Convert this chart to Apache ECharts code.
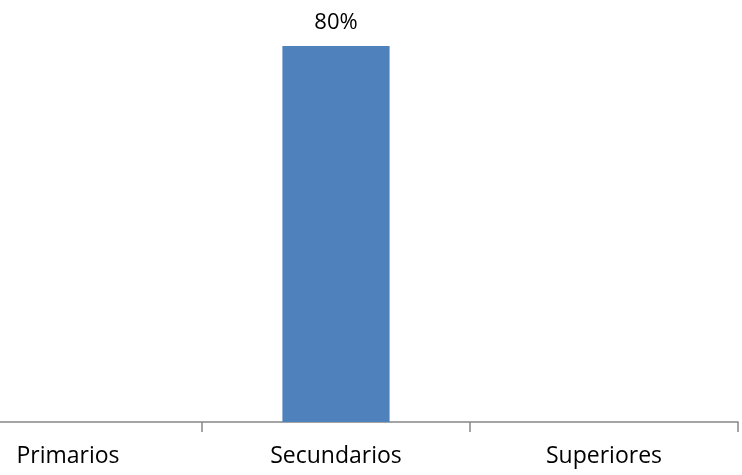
<!DOCTYPE html>
<html><head><meta charset="utf-8">
<script src="https://cdn.jsdelivr.net/npm/echarts@6/dist/echarts.min.js"></script>
<style>html,body{margin:0;padding:0;background:#fff;overflow:hidden;width:742px;height:475px}#c{position:absolute;left:-66px;top:0;width:808px;height:475px}</style>
</head><body><div id="c"></div>
<script>
const categories = ["Primarios", "Secundarios", "Superiores"];
const values = [null, 0.80, null];
const yMax = 0.80;

const FONT = '"Open Sans", Lato, sans-serif';
const chart = echarts.init(document.getElementById('c'), null, {renderer: 'canvas'});
chart.setOption({
  animation: false,
  grid: {left: 0, right: 4, top: 46, bottom: 53, containLabel: false},
  xAxis: {
    type: 'category', data: categories,
    axisLine: {lineStyle: {color: '#868686', width: 1.5}},
    axisTick: {show: true, length: 10, lineStyle: {color: '#868686', width: 1.5}},
    axisLabel: {color: '#000', fontSize: 23, fontFamily: FONT, margin: 23}
  },
  yAxis: {type: 'value', min: 0, max: yMax, show: false, splitLine: {show: false}},
  series: [{
    type: 'bar', data: values, barWidth: '40%',
    itemStyle: {color: '#4f81bd'},
    label: {show: true, position: 'top', distance: 12, color: '#000', fontSize: 22,
      fontFamily: FONT,
      formatter: p => Math.round(p.value * 100) + '%'}
  }]
});
</script></body></html>
